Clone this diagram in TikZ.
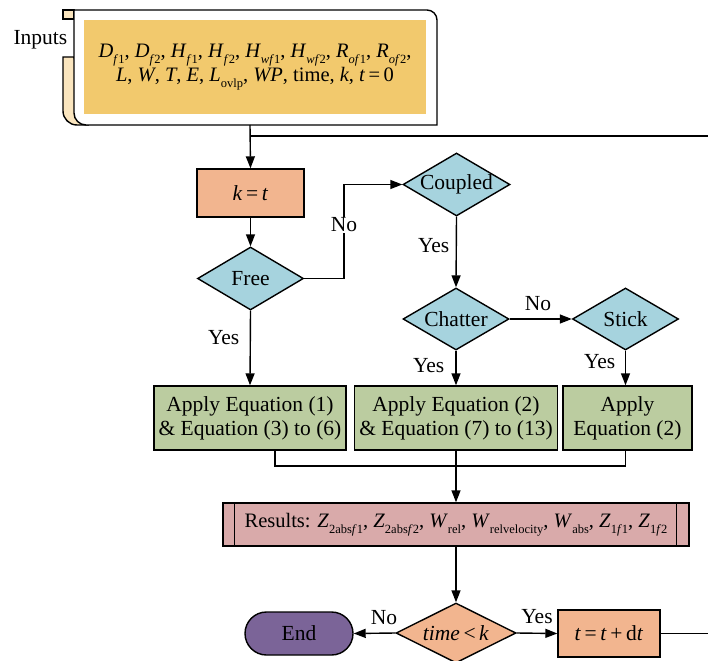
\documentclass[tikz,border=0pt]{standalone}
\usepackage{fontspec}
\setmainfont{Liberation Serif}
\usetikzlibrary{shapes.geometric,arrows.meta}
\definecolor{salmon}{HTML}{F2B58F}
\definecolor{lblue}{HTML}{A6D3DE}
\definecolor{lgreen}{HTML}{BBCCA0}
\definecolor{rpink}{HTML}{D9AAAA}
\definecolor{endpurple}{HTML}{7B6498}
\definecolor{inyellow}{HTML}{F2C96D}
\definecolor{tabcream}{HTML}{FAE5BE}
\newcommand\sbs[1]{\raisebox{-0.28em}{\fontsize{12.5}{12.5}\selectfont #1}}
\newcommand\mv[2]{\textit{#1}\sbs{#2}}
\begin{document}
\begin{tikzpicture}[x=1pt,y=-1pt,line width=1.4pt,
  font=\fontsize{21.5}{25}\selectfont,
  arr/.style={-{Triangle[length=12pt,width=9pt]}},
  boxnode/.style={draw,inner sep=0pt,align=center},
  dia/.style={draw,diamond,fill=lblue,inner sep=0pt},
  lbl/.style={inner sep=1pt}]
\useasboundingbox (0,0) rectangle (708,660);
\fill[white] (0,0) rectangle (708,660);
% Inputs shape
\draw[fill=tabcream] (63,10) rectangle (74,19);
\draw[fill=tabcream] (74,57) -- (63,57) -- (63,111) arc[start angle=180,end angle=90,radius=14] -- (88,125) -- cycle;
\draw[fill=white] (74,10) -- (427,10) arc[start angle=-90,end angle=0,radius=10] -- (437,125) -- (86,125) arc[start angle=90,end angle=180,radius=12] -- cycle;
\node[fill=inyellow,minimum width=342,minimum height=94,inner sep=0pt,align=center,font=\fontsize{20.5}{24}\selectfont] (inp) at (255,67)
  {\mv{D}{\textit{f}1}, \mv{D}{\textit{f}2}, \mv{H}{\textit{f}1}, \mv{H}{\textit{f}2}, \mv{H}{\textit{wf}1}, \mv{H}{\textit{wf}2}, \mv{R}{\textit{of}1}, \mv{R}{\textit{of}2},\\
   \textit{L}, \textit{W}, \textit{T}, \textit{E}, \mv{L}{ovlp}, \textit{WP}, time, \textit{k}, \textit{t}\,=\,0};
\node[anchor=east,inner sep=0pt] (inlbl) at (68,40) {Inputs};
\coordinate (inb) at (250,125);
\coordinate (tl) at (250,136);
\coordinate (tr) at (708,136);
\draw (tl) -- (tr);
% k = t
\node[boxnode,fill=salmon,minimum width=107,minimum height=48] (kt) at (250.5,193) {\textit{k}\,=\,\textit{t}};
\draw[arr] (inb) -- (kt.north);
% decisions
\node[dia,minimum width=106,minimum height=63,label=center:Free] (free) at (250.5,278.5) {};
\node[dia,minimum width=107,minimum height=63,label=center:Coupled] (coupled) at (456.5,184.5) {};
\node[dia,minimum width=106,minimum height=62,label=center:Chatter] (chatter) at (456,319) {};
\node[dia,minimum width=106,minimum height=62,label=center:Stick] (stick) at (625.5,319) {};
\draw[arr] (kt.south) -- (free.north);
\coordinate (fc) at (344,278.5);
\draw[arr] (free.east) -- (fc) |- (coupled.west);
\node[lbl,fill=white] (no1) at (344,225) {No};
\draw[arr] (coupled.south) -- (chatter.north);
\node[lbl,anchor=east] (yes1) at (451,246) {Yes};
\draw[arr] (chatter.east) -- (stick.west);
\node[lbl] (no2) at (538,304) {No};
% green boxes
\node[boxnode,fill=lgreen,minimum width=192,minimum height=64] (g1) at (250,418) {Apply Equation (1)\\[-1pt]\& Equation (3) to (6)};
\node[boxnode,fill=lgreen,minimum width=203,minimum height=64] (g2) at (456,418) {Apply Equation (2)\\[-1pt]\& Equation (7) to (13)};
\node[boxnode,fill=lgreen,minimum width=129,minimum height=64] (g3) at (627.5,418) {Apply\\[-1pt]Equation (2)};
\draw[arr] (free.south) -- (g1.north);
\node[lbl,anchor=east] (yes2) at (241,338) {Yes};
\draw[arr] (chatter.south) -- (g2.north);
\node[lbl,anchor=east] (yes3) at (446,366) {Yes};
\draw[arr] (stick.south) -- (stick.south |- g3.north);
\node[lbl,anchor=east] (yes4) at (617,362) {Yes};
% merge
\coordinate (mj) at (456,466);
\coordinate (g1b) at (275,450);
\coordinate (g3b) at (625.5,450);
\draw (g1b) |- (mj);
\draw (g3b) |- (mj);
% results
\node[boxnode,fill=rpink,minimum width=466,minimum height=43,font=\fontsize{20.5}{24}\selectfont] (res) at (456,524.5)
  {Results: \mv{Z}{2abs\textit{f}1}, \mv{Z}{2abs\textit{f}2}, \mv{W}{rel}, \mv{W}{relvelocity}, \mv{W}{abs}, \mv{Z}{1\textit{f}1}, \mv{Z}{1\textit{f}2}};
\draw ([xshift=12pt]res.north west) -- ([xshift=12pt]res.south west);
\draw ([xshift=-13pt]res.north east) -- ([xshift=-13pt]res.south east);
\draw[arr] (g2.south) -- (res.north);
% bottom row
\node[draw,diamond,fill=salmon,inner sep=0pt,minimum width=120,minimum height=60,label=center:{\textit{time}\,<\,\textit{k}}] (tk) at (456,633) {};
\draw[arr] (res.south) -- (tk.north);
\node[draw,fill=endpurple,rounded corners=21.5pt,minimum width=108,minimum height=43,inner sep=0pt] (endn) at (299,633.5) {End};
\node[boxnode,fill=salmon,minimum width=102,minimum height=47] (tb) at (609,633.5) {\textit{t}\,=\,\textit{t}\,+\,d\textit{t}};
\draw[arr] (tk.west) -- (endn.east);
\node[lbl] (no3) at (384,618) {No};
\draw[arr] (tk.east) -- (tb.west);
\node[lbl] (yes5) at (537,617) {Yes};
\coordinate (re) at (708,633.5);
\draw (tb.east) -- (re);
\end{tikzpicture}
\end{document}
